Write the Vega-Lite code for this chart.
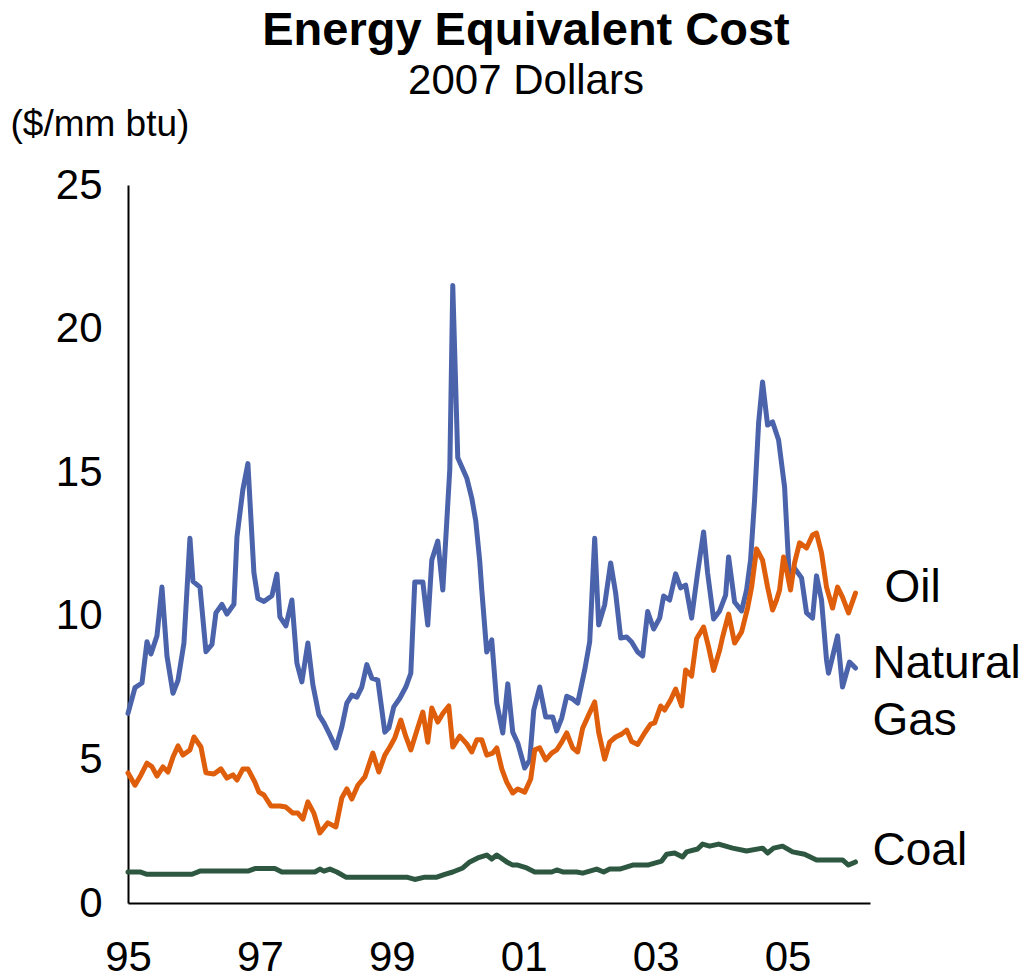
{
  "$schema": "https://vega.github.io/schema/vega-lite/v6.json",
  "autosize": {"type": "none"},
  "padding": {"left": 128, "top": 185, "right": 160, "bottom": 77},
  "width": 742,
  "height": 718,
  "background": "white",
  "title": {
    "text": "Energy Equivalent Cost",
    "subtitle": "2007 Dollars",
    "anchor": "middle",
    "frame": "group",
    "dx": 27,
    "offset": 2,
    "font": "Liberation Sans",
    "fontSize": 47,
    "fontWeight": "bold",
    "color": "black",
    "subtitleFont": "Liberation Sans",
    "subtitleFontSize": 42,
    "subtitleColor": "black",
    "subtitlePadding": 6
  },
  "config": {
    "view": {"stroke": null},
    "axis": {
      "domainColor": "black",
      "domainWidth": 2,
      "ticks": false,
      "grid": false,
      "labelFont": "Liberation Sans",
      "labelFontSize": 42,
      "labelColor": "black"
    }
  },
  "data": {
    "values": [
      {"series": "Natural Gas", "year": 1995.000, "cost": 6.6},
      {"series": "Natural Gas", "year": 1995.106, "cost": 7.5},
      {"series": "Natural Gas", "year": 1995.212, "cost": 7.66},
      {"series": "Natural Gas", "year": 1995.288, "cost": 9.1},
      {"series": "Natural Gas", "year": 1995.348, "cost": 8.67},
      {"series": "Natural Gas", "year": 1995.439, "cost": 9.3},
      {"series": "Natural Gas", "year": 1995.515, "cost": 11.0},
      {"series": "Natural Gas", "year": 1995.591, "cost": 8.6},
      {"series": "Natural Gas", "year": 1995.682, "cost": 7.3},
      {"series": "Natural Gas", "year": 1995.758, "cost": 7.75},
      {"series": "Natural Gas", "year": 1995.848, "cost": 9.05},
      {"series": "Natural Gas", "year": 1995.939, "cost": 12.7},
      {"series": "Natural Gas", "year": 1995.985, "cost": 11.2},
      {"series": "Natural Gas", "year": 1996.091, "cost": 11.0},
      {"series": "Natural Gas", "year": 1996.182, "cost": 8.75},
      {"series": "Natural Gas", "year": 1996.273, "cost": 9.0},
      {"series": "Natural Gas", "year": 1996.333, "cost": 10.1},
      {"series": "Natural Gas", "year": 1996.424, "cost": 10.4},
      {"series": "Natural Gas", "year": 1996.500, "cost": 10.06},
      {"series": "Natural Gas", "year": 1996.606, "cost": 10.4},
      {"series": "Natural Gas", "year": 1996.652, "cost": 12.75},
      {"series": "Natural Gas", "year": 1996.742, "cost": 14.4},
      {"series": "Natural Gas", "year": 1996.818, "cost": 15.3},
      {"series": "Natural Gas", "year": 1996.909, "cost": 11.5},
      {"series": "Natural Gas", "year": 1996.970, "cost": 10.6},
      {"series": "Natural Gas", "year": 1997.061, "cost": 10.5},
      {"series": "Natural Gas", "year": 1997.182, "cost": 10.7},
      {"series": "Natural Gas", "year": 1997.258, "cost": 11.45},
      {"series": "Natural Gas", "year": 1997.303, "cost": 9.96},
      {"series": "Natural Gas", "year": 1997.394, "cost": 9.65},
      {"series": "Natural Gas", "year": 1997.485, "cost": 10.55},
      {"series": "Natural Gas", "year": 1997.561, "cost": 8.35},
      {"series": "Natural Gas", "year": 1997.636, "cost": 7.7},
      {"series": "Natural Gas", "year": 1997.727, "cost": 9.05},
      {"series": "Natural Gas", "year": 1997.803, "cost": 7.6},
      {"series": "Natural Gas", "year": 1997.894, "cost": 6.55},
      {"series": "Natural Gas", "year": 1997.970, "cost": 6.27},
      {"series": "Natural Gas", "year": 1998.061, "cost": 5.85},
      {"series": "Natural Gas", "year": 1998.152, "cost": 5.4},
      {"series": "Natural Gas", "year": 1998.242, "cost": 6.13},
      {"series": "Natural Gas", "year": 1998.318, "cost": 6.96},
      {"series": "Natural Gas", "year": 1998.394, "cost": 7.24},
      {"series": "Natural Gas", "year": 1998.470, "cost": 7.17},
      {"series": "Natural Gas", "year": 1998.545, "cost": 7.52},
      {"series": "Natural Gas", "year": 1998.621, "cost": 8.3},
      {"series": "Natural Gas", "year": 1998.697, "cost": 7.83},
      {"series": "Natural Gas", "year": 1998.788, "cost": 7.76},
      {"series": "Natural Gas", "year": 1998.894, "cost": 5.95},
      {"series": "Natural Gas", "year": 1998.955, "cost": 6.1},
      {"series": "Natural Gas", "year": 1999.030, "cost": 6.83},
      {"series": "Natural Gas", "year": 1999.121, "cost": 7.13},
      {"series": "Natural Gas", "year": 1999.212, "cost": 7.52},
      {"series": "Natural Gas", "year": 1999.288, "cost": 8.0},
      {"series": "Natural Gas", "year": 1999.348, "cost": 11.18},
      {"series": "Natural Gas", "year": 1999.470, "cost": 11.18},
      {"series": "Natural Gas", "year": 1999.545, "cost": 9.68},
      {"series": "Natural Gas", "year": 1999.606, "cost": 11.94},
      {"series": "Natural Gas", "year": 1999.697, "cost": 12.6},
      {"series": "Natural Gas", "year": 1999.773, "cost": 10.9},
      {"series": "Natural Gas", "year": 1999.879, "cost": 15.1},
      {"series": "Natural Gas", "year": 1999.924, "cost": 21.5},
      {"series": "Natural Gas", "year": 2000.000, "cost": 15.5},
      {"series": "Natural Gas", "year": 2000.136, "cost": 14.8},
      {"series": "Natural Gas", "year": 2000.212, "cost": 14.1},
      {"series": "Natural Gas", "year": 2000.273, "cost": 13.3},
      {"series": "Natural Gas", "year": 2000.333, "cost": 11.9},
      {"series": "Natural Gas", "year": 2000.364, "cost": 10.9},
      {"series": "Natural Gas", "year": 2000.439, "cost": 8.74},
      {"series": "Natural Gas", "year": 2000.515, "cost": 9.16},
      {"series": "Natural Gas", "year": 2000.591, "cost": 6.96},
      {"series": "Natural Gas", "year": 2000.682, "cost": 5.92},
      {"series": "Natural Gas", "year": 2000.758, "cost": 7.63},
      {"series": "Natural Gas", "year": 2000.833, "cost": 5.95},
      {"series": "Natural Gas", "year": 2000.909, "cost": 5.57},
      {"series": "Natural Gas", "year": 2001.015, "cost": 4.7},
      {"series": "Natural Gas", "year": 2001.091, "cost": 4.98},
      {"series": "Natural Gas", "year": 2001.152, "cost": 6.72},
      {"series": "Natural Gas", "year": 2001.242, "cost": 7.52},
      {"series": "Natural Gas", "year": 2001.333, "cost": 6.48},
      {"series": "Natural Gas", "year": 2001.439, "cost": 6.48},
      {"series": "Natural Gas", "year": 2001.500, "cost": 5.99},
      {"series": "Natural Gas", "year": 2001.576, "cost": 6.44},
      {"series": "Natural Gas", "year": 2001.652, "cost": 7.2},
      {"series": "Natural Gas", "year": 2001.742, "cost": 7.1},
      {"series": "Natural Gas", "year": 2001.818, "cost": 6.96},
      {"series": "Natural Gas", "year": 2001.924, "cost": 8.11},
      {"series": "Natural Gas", "year": 2002.000, "cost": 9.09},
      {"series": "Natural Gas", "year": 2002.076, "cost": 12.7},
      {"series": "Natural Gas", "year": 2002.136, "cost": 9.68},
      {"series": "Natural Gas", "year": 2002.227, "cost": 10.38},
      {"series": "Natural Gas", "year": 2002.318, "cost": 11.84},
      {"series": "Natural Gas", "year": 2002.394, "cost": 10.79},
      {"series": "Natural Gas", "year": 2002.470, "cost": 9.23},
      {"series": "Natural Gas", "year": 2002.561, "cost": 9.26},
      {"series": "Natural Gas", "year": 2002.636, "cost": 9.09},
      {"series": "Natural Gas", "year": 2002.727, "cost": 8.74},
      {"series": "Natural Gas", "year": 2002.803, "cost": 8.6},
      {"series": "Natural Gas", "year": 2002.879, "cost": 10.15},
      {"series": "Natural Gas", "year": 2002.970, "cost": 9.54},
      {"series": "Natural Gas", "year": 2003.061, "cost": 9.92},
      {"series": "Natural Gas", "year": 2003.121, "cost": 10.69},
      {"series": "Natural Gas", "year": 2003.212, "cost": 10.55},
      {"series": "Natural Gas", "year": 2003.303, "cost": 11.46},
      {"series": "Natural Gas", "year": 2003.379, "cost": 10.97},
      {"series": "Natural Gas", "year": 2003.455, "cost": 11.07},
      {"series": "Natural Gas", "year": 2003.545, "cost": 9.92},
      {"series": "Natural Gas", "year": 2003.636, "cost": 11.49},
      {"series": "Natural Gas", "year": 2003.727, "cost": 12.92},
      {"series": "Natural Gas", "year": 2003.788, "cost": 11.49},
      {"series": "Natural Gas", "year": 2003.879, "cost": 9.89},
      {"series": "Natural Gas", "year": 2003.970, "cost": 10.17},
      {"series": "Natural Gas", "year": 2004.061, "cost": 10.72},
      {"series": "Natural Gas", "year": 2004.106, "cost": 12.05},
      {"series": "Natural Gas", "year": 2004.197, "cost": 10.48},
      {"series": "Natural Gas", "year": 2004.303, "cost": 10.17},
      {"series": "Natural Gas", "year": 2004.379, "cost": 10.9},
      {"series": "Natural Gas", "year": 2004.439, "cost": 11.94},
      {"series": "Natural Gas", "year": 2004.500, "cost": 14.03},
      {"series": "Natural Gas", "year": 2004.561, "cost": 16.71},
      {"series": "Natural Gas", "year": 2004.621, "cost": 18.14},
      {"series": "Natural Gas", "year": 2004.697, "cost": 16.64},
      {"series": "Natural Gas", "year": 2004.773, "cost": 16.75},
      {"series": "Natural Gas", "year": 2004.864, "cost": 16.12},
      {"series": "Natural Gas", "year": 2004.955, "cost": 14.48},
      {"series": "Natural Gas", "year": 2005.030, "cost": 11.18},
      {"series": "Natural Gas", "year": 2005.106, "cost": 11.66},
      {"series": "Natural Gas", "year": 2005.212, "cost": 11.32},
      {"series": "Natural Gas", "year": 2005.288, "cost": 10.1},
      {"series": "Natural Gas", "year": 2005.379, "cost": 9.92},
      {"series": "Natural Gas", "year": 2005.439, "cost": 11.39},
      {"series": "Natural Gas", "year": 2005.515, "cost": 10.55},
      {"series": "Natural Gas", "year": 2005.591, "cost": 8.46},
      {"series": "Natural Gas", "year": 2005.621, "cost": 8.0},
      {"series": "Natural Gas", "year": 2005.682, "cost": 8.57},
      {"series": "Natural Gas", "year": 2005.758, "cost": 9.3},
      {"series": "Natural Gas", "year": 2005.833, "cost": 7.52},
      {"series": "Natural Gas", "year": 2005.939, "cost": 8.39},
      {"series": "Natural Gas", "year": 2006.030, "cost": 8.18},

      {"series": "Oil", "year": 1995.000, "cost": 4.53},
      {"series": "Oil", "year": 1995.106, "cost": 4.1},
      {"series": "Oil", "year": 1995.197, "cost": 4.46},
      {"series": "Oil", "year": 1995.288, "cost": 4.87},
      {"series": "Oil", "year": 1995.364, "cost": 4.74},
      {"series": "Oil", "year": 1995.439, "cost": 4.42},
      {"series": "Oil", "year": 1995.530, "cost": 4.74},
      {"series": "Oil", "year": 1995.606, "cost": 4.56},
      {"series": "Oil", "year": 1995.682, "cost": 5.08},
      {"series": "Oil", "year": 1995.758, "cost": 5.47},
      {"series": "Oil", "year": 1995.833, "cost": 5.15},
      {"series": "Oil", "year": 1995.939, "cost": 5.33},
      {"series": "Oil", "year": 1996.000, "cost": 5.78},
      {"series": "Oil", "year": 1996.106, "cost": 5.43},
      {"series": "Oil", "year": 1996.182, "cost": 4.53},
      {"series": "Oil", "year": 1996.303, "cost": 4.49},
      {"series": "Oil", "year": 1996.409, "cost": 4.67},
      {"series": "Oil", "year": 1996.500, "cost": 4.35},
      {"series": "Oil", "year": 1996.591, "cost": 4.46},
      {"series": "Oil", "year": 1996.652, "cost": 4.28},
      {"series": "Oil", "year": 1996.742, "cost": 4.67},
      {"series": "Oil", "year": 1996.818, "cost": 4.67},
      {"series": "Oil", "year": 1996.924, "cost": 4.21},
      {"series": "Oil", "year": 1996.985, "cost": 3.86},
      {"series": "Oil", "year": 1997.061, "cost": 3.76},
      {"series": "Oil", "year": 1997.167, "cost": 3.38},
      {"series": "Oil", "year": 1997.303, "cost": 3.38},
      {"series": "Oil", "year": 1997.394, "cost": 3.34},
      {"series": "Oil", "year": 1997.500, "cost": 3.13},
      {"series": "Oil", "year": 1997.576, "cost": 3.13},
      {"series": "Oil", "year": 1997.652, "cost": 2.92},
      {"series": "Oil", "year": 1997.727, "cost": 3.52},
      {"series": "Oil", "year": 1997.818, "cost": 3.13},
      {"series": "Oil", "year": 1997.909, "cost": 2.44},
      {"series": "Oil", "year": 1998.030, "cost": 2.79},
      {"series": "Oil", "year": 1998.152, "cost": 2.65},
      {"series": "Oil", "year": 1998.242, "cost": 3.66},
      {"series": "Oil", "year": 1998.318, "cost": 3.97},
      {"series": "Oil", "year": 1998.394, "cost": 3.62},
      {"series": "Oil", "year": 1998.485, "cost": 4.1},
      {"series": "Oil", "year": 1998.591, "cost": 4.39},
      {"series": "Oil", "year": 1998.712, "cost": 5.22},
      {"series": "Oil", "year": 1998.803, "cost": 4.56},
      {"series": "Oil", "year": 1998.894, "cost": 5.15},
      {"series": "Oil", "year": 1998.970, "cost": 5.43},
      {"series": "Oil", "year": 1999.045, "cost": 5.75},
      {"series": "Oil", "year": 1999.136, "cost": 6.37},
      {"series": "Oil", "year": 1999.212, "cost": 5.8},
      {"series": "Oil", "year": 1999.288, "cost": 5.33},
      {"series": "Oil", "year": 1999.379, "cost": 6.0},
      {"series": "Oil", "year": 1999.470, "cost": 6.65},
      {"series": "Oil", "year": 1999.545, "cost": 5.6},
      {"series": "Oil", "year": 1999.606, "cost": 6.79},
      {"series": "Oil", "year": 1999.697, "cost": 6.3},
      {"series": "Oil", "year": 1999.773, "cost": 6.6},
      {"series": "Oil", "year": 1999.864, "cost": 6.86},
      {"series": "Oil", "year": 1999.924, "cost": 5.43},
      {"series": "Oil", "year": 2000.030, "cost": 5.81},
      {"series": "Oil", "year": 2000.136, "cost": 5.54},
      {"series": "Oil", "year": 2000.212, "cost": 5.26},
      {"series": "Oil", "year": 2000.288, "cost": 5.68},
      {"series": "Oil", "year": 2000.364, "cost": 5.68},
      {"series": "Oil", "year": 2000.439, "cost": 5.15},
      {"series": "Oil", "year": 2000.530, "cost": 5.22},
      {"series": "Oil", "year": 2000.591, "cost": 5.4},
      {"series": "Oil", "year": 2000.667, "cost": 4.67},
      {"series": "Oil", "year": 2000.742, "cost": 4.21},
      {"series": "Oil", "year": 2000.833, "cost": 3.83},
      {"series": "Oil", "year": 2000.909, "cost": 3.97},
      {"series": "Oil", "year": 2001.015, "cost": 3.86},
      {"series": "Oil", "year": 2001.106, "cost": 4.32},
      {"series": "Oil", "year": 2001.167, "cost": 5.33},
      {"series": "Oil", "year": 2001.242, "cost": 5.4},
      {"series": "Oil", "year": 2001.333, "cost": 4.98},
      {"series": "Oil", "year": 2001.424, "cost": 5.22},
      {"series": "Oil", "year": 2001.500, "cost": 5.33},
      {"series": "Oil", "year": 2001.576, "cost": 5.6},
      {"series": "Oil", "year": 2001.652, "cost": 5.92},
      {"series": "Oil", "year": 2001.742, "cost": 5.4},
      {"series": "Oil", "year": 2001.818, "cost": 5.26},
      {"series": "Oil", "year": 2001.894, "cost": 6.09},
      {"series": "Oil", "year": 2001.985, "cost": 6.55},
      {"series": "Oil", "year": 2002.076, "cost": 7.0},
      {"series": "Oil", "year": 2002.136, "cost": 5.95},
      {"series": "Oil", "year": 2002.227, "cost": 5.01},
      {"series": "Oil", "year": 2002.303, "cost": 5.6},
      {"series": "Oil", "year": 2002.394, "cost": 5.78},
      {"series": "Oil", "year": 2002.485, "cost": 5.88},
      {"series": "Oil", "year": 2002.561, "cost": 6.02},
      {"series": "Oil", "year": 2002.636, "cost": 5.62},
      {"series": "Oil", "year": 2002.727, "cost": 5.52},
      {"series": "Oil", "year": 2002.833, "cost": 5.92},
      {"series": "Oil", "year": 2002.924, "cost": 6.23},
      {"series": "Oil", "year": 2002.985, "cost": 6.27},
      {"series": "Oil", "year": 2003.076, "cost": 6.86},
      {"series": "Oil", "year": 2003.136, "cost": 6.72},
      {"series": "Oil", "year": 2003.227, "cost": 7.07},
      {"series": "Oil", "year": 2003.303, "cost": 7.45},
      {"series": "Oil", "year": 2003.394, "cost": 6.86},
      {"series": "Oil", "year": 2003.455, "cost": 8.11},
      {"series": "Oil", "year": 2003.545, "cost": 7.9},
      {"series": "Oil", "year": 2003.621, "cost": 9.2},
      {"series": "Oil", "year": 2003.727, "cost": 9.61},
      {"series": "Oil", "year": 2003.803, "cost": 8.91},
      {"series": "Oil", "year": 2003.879, "cost": 8.1},
      {"series": "Oil", "year": 2003.970, "cost": 8.8},
      {"series": "Oil", "year": 2004.015, "cost": 9.26},
      {"series": "Oil", "year": 2004.106, "cost": 10.06},
      {"series": "Oil", "year": 2004.197, "cost": 9.05},
      {"series": "Oil", "year": 2004.303, "cost": 9.44},
      {"series": "Oil", "year": 2004.394, "cost": 10.27},
      {"series": "Oil", "year": 2004.455, "cost": 11.0},
      {"series": "Oil", "year": 2004.530, "cost": 12.33},
      {"series": "Oil", "year": 2004.621, "cost": 11.94},
      {"series": "Oil", "year": 2004.697, "cost": 11.0},
      {"series": "Oil", "year": 2004.773, "cost": 10.2},
      {"series": "Oil", "year": 2004.833, "cost": 10.55},
      {"series": "Oil", "year": 2004.879, "cost": 10.9},
      {"series": "Oil", "year": 2004.939, "cost": 12.05},
      {"series": "Oil", "year": 2004.985, "cost": 11.6},
      {"series": "Oil", "year": 2005.045, "cost": 10.9},
      {"series": "Oil", "year": 2005.106, "cost": 11.84},
      {"series": "Oil", "year": 2005.182, "cost": 12.54},
      {"series": "Oil", "year": 2005.288, "cost": 12.36},
      {"series": "Oil", "year": 2005.379, "cost": 12.81},
      {"series": "Oil", "year": 2005.439, "cost": 12.88},
      {"series": "Oil", "year": 2005.515, "cost": 12.19},
      {"series": "Oil", "year": 2005.591, "cost": 11.0},
      {"series": "Oil", "year": 2005.682, "cost": 10.27},
      {"series": "Oil", "year": 2005.758, "cost": 11.0},
      {"series": "Oil", "year": 2005.833, "cost": 10.65},
      {"series": "Oil", "year": 2005.924, "cost": 10.1},
      {"series": "Oil", "year": 2006.030, "cost": 10.79},

      {"series": "Coal", "year": 1995.000, "cost": 1.08},
      {"series": "Coal", "year": 1995.182, "cost": 1.08},
      {"series": "Coal", "year": 1995.288, "cost": 1.0},
      {"series": "Coal", "year": 1995.970, "cost": 1.0},
      {"series": "Coal", "year": 1996.091, "cost": 1.11},
      {"series": "Coal", "year": 1996.818, "cost": 1.11},
      {"series": "Coal", "year": 1996.924, "cost": 1.2},
      {"series": "Coal", "year": 1997.227, "cost": 1.2},
      {"series": "Coal", "year": 1997.333, "cost": 1.08},
      {"series": "Coal", "year": 1997.833, "cost": 1.08},
      {"series": "Coal", "year": 1997.909, "cost": 1.18},
      {"series": "Coal", "year": 1997.970, "cost": 1.11},
      {"series": "Coal", "year": 1998.061, "cost": 1.18},
      {"series": "Coal", "year": 1998.167, "cost": 1.08},
      {"series": "Coal", "year": 1998.303, "cost": 0.9},
      {"series": "Coal", "year": 1999.227, "cost": 0.9},
      {"series": "Coal", "year": 1999.348, "cost": 0.82},
      {"series": "Coal", "year": 1999.500, "cost": 0.9},
      {"series": "Coal", "year": 1999.682, "cost": 0.9},
      {"series": "Coal", "year": 1999.803, "cost": 1.0},
      {"series": "Coal", "year": 1999.924, "cost": 1.08},
      {"series": "Coal", "year": 2000.076, "cost": 1.22},
      {"series": "Coal", "year": 2000.182, "cost": 1.43},
      {"series": "Coal", "year": 2000.303, "cost": 1.57},
      {"series": "Coal", "year": 2000.439, "cost": 1.67},
      {"series": "Coal", "year": 2000.515, "cost": 1.53},
      {"series": "Coal", "year": 2000.591, "cost": 1.67},
      {"series": "Coal", "year": 2000.742, "cost": 1.43},
      {"series": "Coal", "year": 2000.833, "cost": 1.32},
      {"series": "Coal", "year": 2000.909, "cost": 1.32},
      {"series": "Coal", "year": 2001.045, "cost": 1.22},
      {"series": "Coal", "year": 2001.167, "cost": 1.08},
      {"series": "Coal", "year": 2001.424, "cost": 1.08},
      {"series": "Coal", "year": 2001.500, "cost": 1.15},
      {"series": "Coal", "year": 2001.591, "cost": 1.08},
      {"series": "Coal", "year": 2001.803, "cost": 1.08},
      {"series": "Coal", "year": 2001.894, "cost": 1.04},
      {"series": "Coal", "year": 2002.106, "cost": 1.18},
      {"series": "Coal", "year": 2002.212, "cost": 1.08},
      {"series": "Coal", "year": 2002.303, "cost": 1.18},
      {"series": "Coal", "year": 2002.455, "cost": 1.18},
      {"series": "Coal", "year": 2002.652, "cost": 1.32},
      {"series": "Coal", "year": 2002.879, "cost": 1.32},
      {"series": "Coal", "year": 2003.091, "cost": 1.46},
      {"series": "Coal", "year": 2003.167, "cost": 1.7},
      {"series": "Coal", "year": 2003.288, "cost": 1.74},
      {"series": "Coal", "year": 2003.409, "cost": 1.6},
      {"series": "Coal", "year": 2003.470, "cost": 1.78},
      {"series": "Coal", "year": 2003.636, "cost": 1.88},
      {"series": "Coal", "year": 2003.712, "cost": 2.05},
      {"series": "Coal", "year": 2003.818, "cost": 1.98},
      {"series": "Coal", "year": 2003.955, "cost": 2.05},
      {"series": "Coal", "year": 2004.167, "cost": 1.91},
      {"series": "Coal", "year": 2004.379, "cost": 1.81},
      {"series": "Coal", "year": 2004.621, "cost": 1.91},
      {"series": "Coal", "year": 2004.697, "cost": 1.74},
      {"series": "Coal", "year": 2004.788, "cost": 1.91},
      {"series": "Coal", "year": 2004.924, "cost": 1.98},
      {"series": "Coal", "year": 2005.076, "cost": 1.78},
      {"series": "Coal", "year": 2005.258, "cost": 1.7},
      {"series": "Coal", "year": 2005.439, "cost": 1.5},
      {"series": "Coal", "year": 2005.833, "cost": 1.5},
      {"series": "Coal", "year": 2005.924, "cost": 1.32},
      {"series": "Coal", "year": 2006.030, "cost": 1.43}
    ]
  },
  "encoding": {
    "x": {
      "field": "year",
      "type": "quantitative",
      "scale": {"domain": [1995, 2006.25], "nice": false, "zero": false},
      "axis": {
        "title": null,
        "values": [1995, 1997, 1999, 2001, 2003, 2005],
        "labelExpr": "slice(toString(datum.value), 2)",
        "labelPadding": 34,
        "labelFlush": false,
        "labelOverlap": false
      }
    },
    "y": {
      "field": "cost",
      "type": "quantitative",
      "scale": {"domain": [0, 25], "nice": false},
      "axis": {
        "title": "($/mm btu)",
        "titleAngle": 0,
        "titleAlign": "left",
        "titleBaseline": "alphabetic",
        "titleFont": "Liberation Sans",
        "titleFontSize": 37,
        "titleFontWeight": "normal",
        "titleColor": "black",
        "titleX": -118,
        "titleY": -50,
        "values": [0, 5, 10, 15, 20, 25],
        "labelPadding": 26
      }
    }
  },
  "layer": [
    {
      "mark": {"type": "line", "strokeWidth": 5, "strokeJoin": "round", "strokeCap": "round", "clip": false},
      "encoding": {
        "color": {
          "field": "series",
          "type": "nominal",
          "scale": {"domain": ["Natural Gas", "Oil", "Coal"], "range": ["#4A63AB", "#DF5E0B", "#2E5741"]},
          "legend": null
        },
        "detail": {"field": "series"}
      }
    },
    {
      "transform": [
        {"filter": "datum.series == 'Oil'"},
        {"joinaggregate": [{"op": "max", "field": "year", "as": "last"}]},
        {"filter": "datum.year == datum.last"}
      ],
      "mark": {"type": "text", "text": "Oil", "align": "left", "baseline": "middle", "dx": 29, "dy": -5, "font": "Liberation Sans", "fontSize": 46, "color": "black"}
    },
    {
      "transform": [
        {"filter": "datum.series == 'Natural Gas'"},
        {"joinaggregate": [{"op": "max", "field": "year", "as": "last"}]},
        {"filter": "datum.year == datum.last"}
      ],
      "mark": {"type": "text", "text": ["Natural", "Gas"], "lineHeight": 57, "align": "left", "baseline": "middle", "dx": 17, "dy": -4, "font": "Liberation Sans", "fontSize": 46, "color": "black"}
    },
    {
      "transform": [
        {"filter": "datum.series == 'Coal'"},
        {"joinaggregate": [{"op": "max", "field": "year", "as": "last"}]},
        {"filter": "datum.year == datum.last"}
      ],
      "mark": {"type": "text", "text": "Coal", "align": "left", "baseline": "middle", "dx": 17, "dy": -11, "font": "Liberation Sans", "fontSize": 46, "color": "black"}
    }
  ]
}
